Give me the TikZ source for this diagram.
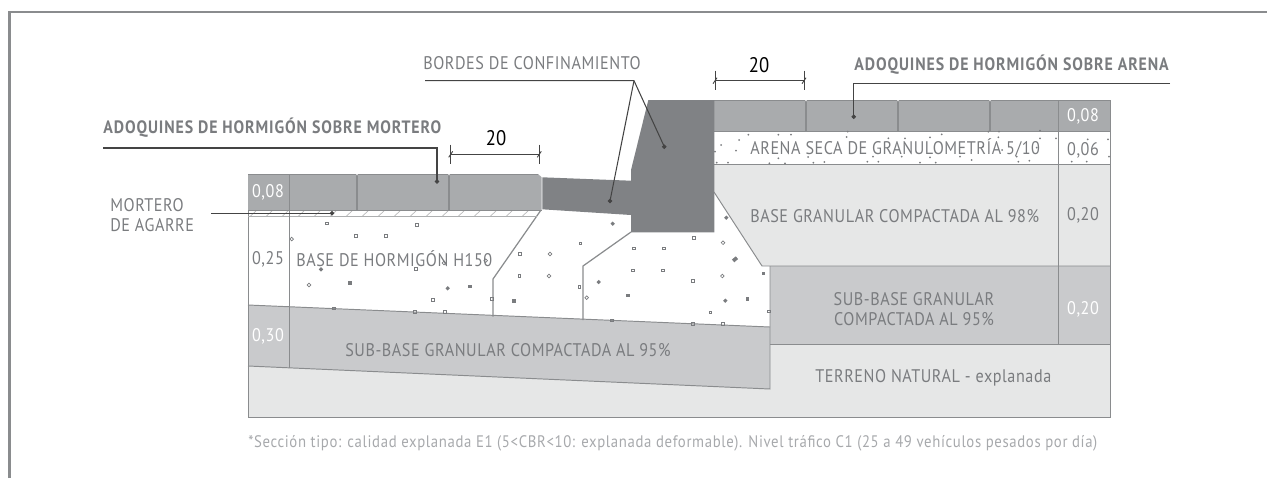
\documentclass[tikz,border=0pt]{standalone}
\usepackage{fontspec}
\setmainfont{PT Sans}[FakeStretch=0.885]
\definecolor{linegray}{HTML}{8A8C8E}
\definecolor{textgray}{HTML}{7A7C7F}
\definecolor{darkblock}{HTML}{808285}
\definecolor{paver}{HTML}{A9ABAD}
\definecolor{subbase}{HTML}{C9CACC}
\definecolor{ground}{HTML}{E6E7E7}
\definecolor{notegray}{HTML}{A7A9AC}
\definecolor{leader}{HTML}{444444}
\tikzset{
	rule/.style={draw=linegray, line width=0.55pt},
	layertext/.style={text=textgray, inner sep=0pt, font=\fontsize{10.4}{11.4}\selectfont\addfontfeatures{LetterSpace=3}},
	titletext/.style={text=textgray, inner sep=0pt, font=\fontsize{10.2}{12}\selectfont\bfseries\addfontfeatures{LetterSpace=5}},
	thicktext/.style={layertext, text=white},
	dimtext/.style={text=black, inner sep=0pt, font=\fontsize{12}{12}\selectfont},
	leaderline/.style={draw=leader, line width=0.6pt},
	dimline/.style={draw=leader, line width=0.5pt},
}
\begin{document}
\begin{tikzpicture}[x=0.02cm, y=-0.02cm]
	\useasboundingbox (0,0) rectangle (1267,478);
	% outer frame
	\draw[draw=linegray, line width=1.2pt] (9.5,478) -- (9.5,12) -- (1267,12);

	% ground and layers
	\fill[ground] (248,366) -- (770,389) -- (770,344) -- (1110,344) -- (1110,417) -- (248,417) -- cycle;
	\fill[subbase] (248,305) -- (770,327) -- (770,389) -- (248,366) -- cycle;
	\fill[ground] (714,164) -- (1110,164) -- (1110,266) -- (762,266) -- (714,192) -- cycle;
	\fill[subbase] (770,266) -- (1110,266) -- (1110,344) -- (770,344) -- cycle;
	\draw[rule] (248,305) -- (770,327);
	\draw[rule] (248,366) -- (770,389) -- (770,266);
	\draw[rule] (714,192) -- (762,266) -- (1110,266);
	\draw[rule] (770,344) -- (1110,344);
	\draw[rule] (714,164) -- (1110,164);
	\draw[rule] (248,174) -- (248,417) -- (1110,417) -- (1110,100);

	% concrete haunches
	\draw[draw=linegray, line width=0.7pt] (541,210) -- (493,279) -- (493,316.5);
	\draw[draw=linegray, line width=0.7pt] (631,232) -- (583,266) -- (583,320);

	% mortar hatch
	\foreach \hx in {250,266,...,530}
		\draw[draw=linegray!60, line width=0.4pt] (\hx,216.5) -- (\hx+7,210);
	\draw[draw=linegray!70, line width=0.5pt] (248,216.5) -- (537,216.5);

	% pavers
	\fill[paver] (248,174) -- (538,174) -- (541.5,177) -- (541.5,210) -- (248,210) -- cycle;
	\fill[paver] (714,100) rectangle (1110,131);
	\draw[rule] (248,210) -- (541.5,210);
	\draw[rule] (714,131) -- (1110,131);
	\draw[rule] (714,100) -- (1110,100);
	\draw[rule] (248,174) -- (538,174);
	\foreach \sx/\sy/\ey in {357/174/210, 449/174/210, 806/100/131, 898/100/131, 990/100/131}{
		\draw[draw=linegray, line width=0.8pt] (\sx,\sy) -- (\sx,\ey);
		\fill[white] (\sx-1.2,\sy-0.8) -- (\sx+1.2,\sy-0.8) -- (\sx,\sy+1.5) -- cycle;
	}

	% kerb block and channel
	\fill[darkblock] (648.3,100) -- (714.3,100) -- (714.3,232.3) -- (631,232.3) -- (631,215) -- (542.3,209.3) -- (542.3,177.3) -- (631,180.7) -- (631,170) -- cycle;

	% aggregate in the concrete
	\foreach \ax/\ay in {326.7/223.3, 416.7/225, 356/235.7, 386/235.7, 415.7/268.7, 432.7/299.7, 334/308.3, 415/311.7, 445/311.7, 520/254, 519.3/276, 491.7/299, 580.3/243.3, 579.3/287, 633.7/248.3, 663.7/248.3, 694/237.7, 632.7/270.3, 662.7/270.3, 693/281, 710.3/312.3, 611.7/320.3, 692.7/324, 722.7/324, 769/311.3}
		\draw[draw=textgray, line width=0.4pt] (\ax-1.4,\ay-1.4) rectangle (\ax+1.4,\ay+1.4);
	\foreach \ax/\ay in {291.7/239, 309/285, 444/263, 550/254, 549/276, 586.7/297.7, 723/242.7, 722.3/276, 485.7/260.7}
		\draw[draw=textgray, line width=0.4pt] (\ax-1.8,\ay) -- (\ax,\ay-1.8) -- (\ax+1.8,\ay) -- (\ax,\ay+1.8) -- cycle;
	\foreach \ax/\ay in {350/282.7, 469.7/286.3, 514/301, 763.3/273.3, 627.7/295.3, 747.3/299}
		\fill[textgray] (\ax-1.8,\ay-1.8) rectangle (\ax+1.8,\ay+1.8);
	\foreach \ax/\ay in {321/269.3, 447.7/288.3, 612.7/223.7, 726.3/217.7, 598.7/282, 725.3/300.7}
		\fill[textgray] (\ax-2.2,\ay) -- (\ax,\ay-2.2) -- (\ax+2.2,\ay) -- (\ax,\ay+2.2) -- cycle;
	\fill[textgray, rotate around={40:(735,259.3)}] (732.5,257.5) rectangle (737.5,261.1);

	% sand grains
	\foreach \gx/\gy in {748.3/134.7, 778.3/134.7, 791/134.7, 739/140, 721/145, 736/150.7, 715/151.7, 778.3/158.3, 808/157, 716.7/162.7, 728/162.7, 769.3/163.3, 785/163.3, 813.3/162.7, 824.3/162, 847.7/131.7, 846.7/137, 888.3/138.3, 905/138.3, 941.7/134.3, 930/137.3, 988.3/131.7, 999/131.7, 998.3/137.3, 1040/130.7, 1040/138.3, 1056/138.3, 1087.7/139.3, 1108/139.3, 1109/156.7, 1071.7/161.7, 1086.7/161.7, 867.3/161.7, 878.3/161.7, 920/162.7, 935.7/162.7, 1018.3/161.7, 1029.3/160.7, 971.7/160, 960/156.7, 930/157.3, 983/146.7, 1002/150, 1036.7/147.7, 1016.7/156.7, 901.7/156.7, 873/156.7}
		\fill[textgray] (\gx,\gy) circle (1);

	% thickness columns
	\draw[rule] (289,174) -- (289,368);
	\draw[rule] (1058,100) -- (1058,344);

	% layer names
	\node[layertext, anchor=west] (hormigon) at (296,259) {BASE DE HORMIGÓN H150};
	\node[layertext, anchor=west] (subleft) at (345,350) {SUB-BASE GRANULAR COMPACTADA AL 95\%};
	\node[layertext, anchor=west] (arena) at (750,148) {ARENA SECA DE GRANULOMETRÍA 5/10};
	\node[layertext, anchor=west] (granular) at (750,216) {BASE GRANULAR COMPACTADA AL 98\%};
	\node[layertext, align=center] (subright) at (914,309) {SUB-BASE GRANULAR\\COMPACTADA AL 95\%};
	\node[layertext, anchor=west] (terreno) at (815,378) {TERRENO NATURAL - explanada};

	% thicknesses
	\node[thicktext] (t008a) at (268,192) {0,08};
	\node[layertext] (t025) at (268,259) {0,25};
	\node[thicktext] (t030) at (268,336) {0,30};
	\node[thicktext] (t008b) at (1083,116) {0,08};
	\node[layertext] (t006) at (1083,150) {0,06};
	\node[layertext] (t020a) at (1083,215) {0,20};
	\node[thicktext] (t020b) at (1083,309) {0,20};

	% titles and leaders
	\node[titletext, anchor=west] (mortero) at (103,128) {ADOQUINES DE HORMIGÓN SOBRE MORTERO};
	\node[titletext, anchor=west] (sobrearena) at (854,65) {ADOQUINES DE HORMIGÓN SOBRE ARENA};
	\node[layertext, anchor=west] (bordes) at (423,63) {BORDES DE CONFINAMIENTO};
	\node[layertext, anchor=west, align=left] (agarre) at (110,215) {MORTERO\\DE AGARRE};

	\coordinate (lm) at (103,148);
	\coordinate (lmdot) at (437,181.5);
	\draw[leaderline] (lm) -| (lmdot);
	\filldraw[leader] (lmdot) circle(1.9);

	\coordinate (la) at (1170,83.3);
	\coordinate (ladot) at (853.7,116.7);
	\draw[leaderline] (la) -| (ladot);
	\filldraw[leader] (ladot) circle(1.9);

	\coordinate (lg) at (211,213.3);
	\coordinate (lgdot) at (332,213.3);
	\draw[leaderline] (lg) -- (lgdot);
	\filldraw[leader] (lgdot) circle(1.9);

	\coordinate (lb) at (425,80.7);
	\coordinate (lbk) at (634,80.7);
	\coordinate (lbdota) at (664.3,146.7);
	\coordinate (lbdotb) at (610,201);
	\draw[leaderline] (lb) -- (lbk) -- (lbdota);
	\draw[leaderline] (lbk) -- (lbdotb);
	\filldraw[leader] (lbdota) circle(1.9);
	\filldraw[leader] (lbdotb) circle(1.9);

	% paver width
	\coordinate (da) at (450.7,154.3);
	\coordinate (db) at (539.3,154.3);
	\draw[dimline] (da) -- (db);
	\draw[dimline] (450.7,144.5) -- (450.7,163.5);
	\draw[dimline] (539.3,144.5) -- (539.3,163.5);
	\draw[dimline] (da)++(-2,3) -- ++(4,-6);
	\draw[dimline] (db)++(-2,3) -- ++(4,-6);
	\node[dimtext] (wa) at (496,138) {20};

	\coordinate (dc) at (715,80.7);
	\coordinate (dd) at (804,80.7);
	\draw[dimline] (dc) -- (dd);
	\draw[dimline] (715,70.5) -- (715,90);
	\draw[dimline] (804,70.5) -- (804,90);
	\draw[dimline] (dc)++(-2,3) -- ++(4,-6);
	\draw[dimline] (dd)++(-2,3) -- ++(4,-6);
	\node[dimtext] (wb) at (759,65) {20};

	% note
	\node[text=notegray, inner sep=0pt, anchor=west, font=\fontsize{9.5}{10}\selectfont\addfontfeatures{LetterSpace=3.8}] (nota) at (248,443) {*Sección tipo: calidad explanada E1 (5<CBR<10: explanada deformable). Nivel tráfico C1 (25 a 49 vehículos pesados por día)};
\end{tikzpicture}
\end{document}
